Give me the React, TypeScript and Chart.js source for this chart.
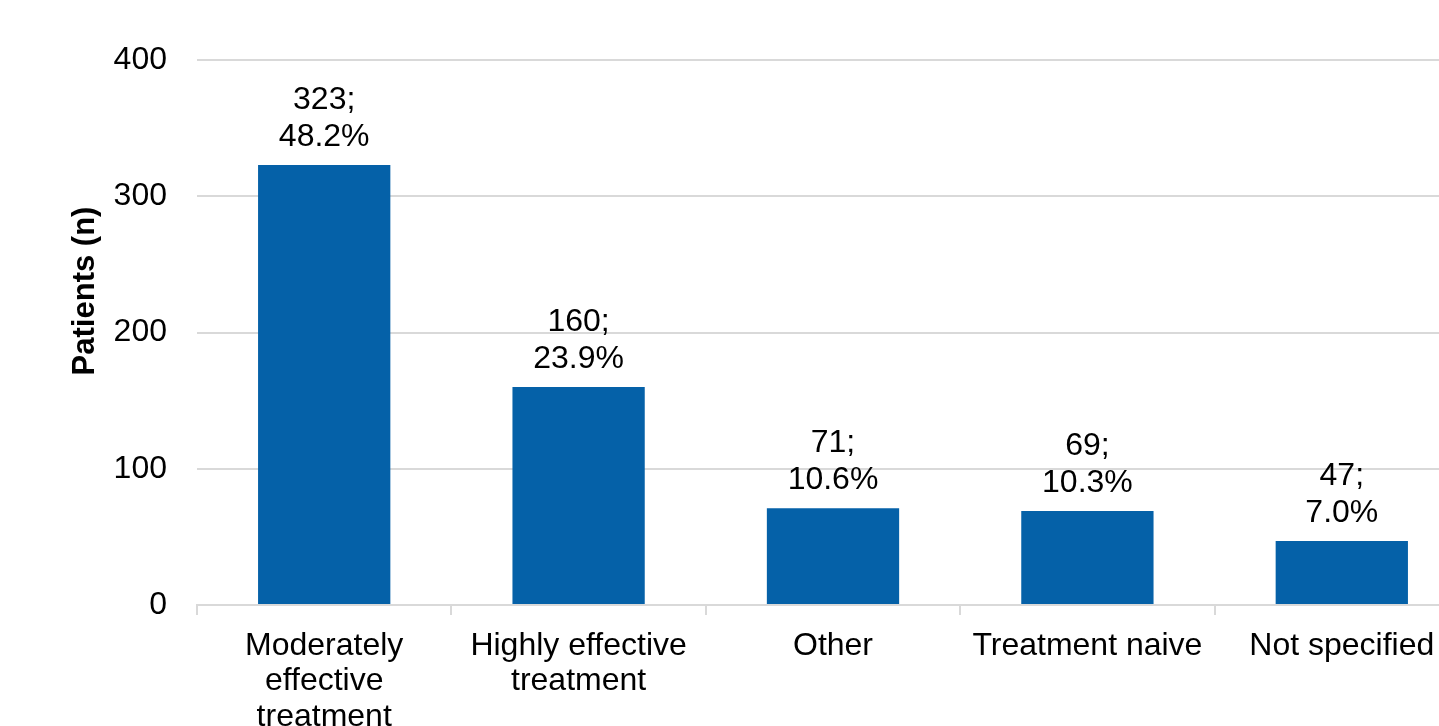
import React, { useEffect, useRef } from "react";
import { Chart, registerables } from "chart.js";

Chart.register(...registerables);

const categories: (string | string[])[] = [
  ["Moderately", "effective", "treatment"],
  ["Highly effective", "treatment"],
  "Other",
  "Treatment naive",
  "Not specified",
];
const patientCounts = [323, 160, 71, 69, 47];
const percentLabels = ["48.2%", "23.9%", "10.6%", "10.3%", "7.0%"];
const yTicks = [0, 100, 200, 300, 400];
const yTitle = "Patients (n)";

const FONT = "'Liberation Sans', Arial, sans-serif";
const GRID = "#d9d9d9";
const BAR = "#0561a8";

const labelPlugin = {
  id: "barLabels",
  afterDatasetsDraw(chart: any) {
    const ctx = chart.ctx;
    const meta = chart.getDatasetMeta(0);
    ctx.save();
    ctx.fillStyle = "#000";
    ctx.font = `32px ${FONT}`;
    ctx.textAlign = "center";
    ctx.textBaseline = "alphabetic";
    meta.data.forEach((bar: any, i: number) => {
      ctx.fillText(`${patientCounts[i]};`, bar.x, bar.y - 56);
      ctx.fillText(percentLabels[i], bar.x, bar.y - 19);
    });
    ctx.restore();
  },
};

const titlePlugin = {
  id: "yTitle",
  afterDraw(chart: any) {
    const ctx = chart.ctx;
    ctx.save();
    ctx.translate(85, 291);
    ctx.rotate(-Math.PI / 2);
    ctx.fillStyle = "#000";
    ctx.font = `bold 31px ${FONT}`;
    ctx.textAlign = "center";
    ctx.textBaseline = "middle";
    ctx.fillText(yTitle, 0, 0);
    ctx.restore();
  },
};

export default function App() {
  const ref = useRef<HTMLCanvasElement>(null);
  useEffect(() => {
    if (!ref.current) return;
    const chart = new Chart(ref.current, {
      type: "bar",
      data: {
        labels: categories,
        datasets: [
          {
            data: patientCounts,
            backgroundColor: BAR,
            barPercentage: 0.52,
            categoryPercentage: 1,
          },
        ],
      },
      options: {
        responsive: false,
        animation: false,
        layout: { padding: { left: 0, top: 60, right: 11, bottom: 5 } },
        plugins: { legend: { display: false }, tooltip: { enabled: false } },
        scales: {
          x: {
            offset: true,
            grid: {
              offset: true,
              drawOnChartArea: false,
              tickLength: 10,
              color: GRID,
              lineWidth: 2,
            },
            border: { display: true, color: GRID, width: 2 },
            ticks: {
              color: "#000",
              font: { family: FONT, size: 32, lineHeight: 1.11 },
              padding: 13,
              maxRotation: 0,
              autoSkip: false,
            },
            afterFit: (s: any) => {
              s.height = 150;
            },
          },
          y: {
            min: 0,
            max: 400,
            afterBuildTicks: (s: any) => {
              s.ticks = yTicks.map((v) => ({ value: v }));
            },
            grid: { color: GRID, lineWidth: 2, drawTicks: false },
            border: { display: false },
            ticks: {
              color: "#000",
              font: { family: FONT, size: 32 },
              padding: 30,
            },
            afterFit: (s: any) => {
              s.width = 197;
            },
          },
        },
      },
      plugins: [labelPlugin, titlePlugin],
    });
    return () => chart.destroy();
  }, []);
  return (
    <div
      style={{
        position: "fixed",
        left: 0,
        top: 0,
        width: 1439,
        height: 726,
        overflow: "hidden",
        background: "#fff",
      }}
    >
      <canvas
        ref={ref}
        width={1480}
        height={760}
        style={{ display: "block", width: 1480, height: 760 }}
      />
    </div>
  );
}
